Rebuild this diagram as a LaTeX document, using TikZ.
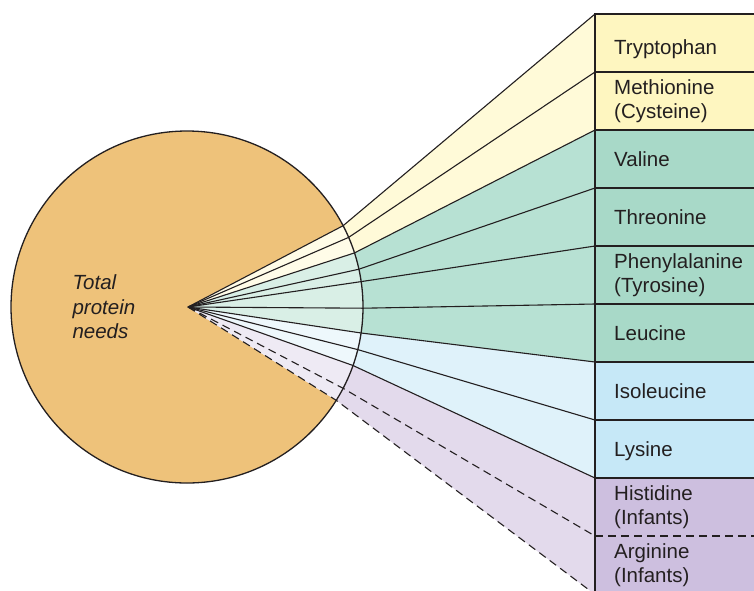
\documentclass[tikz,border=0pt]{standalone}
\usepackage{fontspec}
\setmainfont{Liberation Sans}
\definecolor{lc}{HTML}{231F20}
\definecolor{circ}{HTML}{EEC27A}
\definecolor{bYel}{HTML}{FEF6C0}
\definecolor{wYel}{HTML}{FFFAD8}
\definecolor{iYel}{HTML}{FFFCE8}
\definecolor{bGrn}{HTML}{A8D9C8}
\definecolor{wGrn}{HTML}{B7E1D3}
\definecolor{iGrn}{HTML}{D9EFE6}
\definecolor{bBlu}{HTML}{C6E8F7}
\definecolor{wBlu}{HTML}{DFF2FA}
\definecolor{iBlu}{HTML}{EEF8FC}
\definecolor{bPur}{HTML}{CDBFDF}
\definecolor{wPur}{HTML}{E3DAEC}
\definecolor{iPur}{HTML}{EEEAF4}
\tikzset{
  lbl/.style={font=\fontsize{20.5}{24.5}\selectfont, text=lc},
  aabox/.style={lbl, draw=none, minimum height=58pt, text width=140pt, align=left,
    inner xsep=19pt, inner ysep=0pt, anchor=north west},
  onebox/.style={aabox, text height=14.7pt, text depth=0pt},
  fanline/.style={draw=lc, line width=1.1pt, line join=round},
  fandash/.style={fanline, dash pattern=on 8pt off 5pt},
  boxline/.style={draw=lc, line width=1.4pt},
}
\begin{document}
\begin{tikzpicture}[x=1pt,y=-1pt]
\useasboundingbox (0,0) rectangle (754,590);
% circle fill
\fill[circ] (187,307) circle[radius=176];
\coordinate (A) at (188,307);
% crossing points on the circle
\coordinate (p1) at (343.1,225.7);
\coordinate (p2) at (348.6,237.4);
\coordinate (p3) at (354.5,252.9);
\coordinate (p4) at (358.9,269.2);
\coordinate (p5) at (361.2,281.6);
\coordinate (p6) at (363.0,308.2);
\coordinate (p7) at (361.1,333.0);
\coordinate (p8) at (357.8,349.6);
\coordinate (p9) at (353.0,365.5);
\coordinate (p10) at (343.1,388.3);
\coordinate (p11) at (336.2,400.3);
% boxes
\node[onebox, fill=bYel, text height=22.7pt] (trp) at (595,14) {Tryptophan};
\node[aabox, fill=bYel] (met) at (595,72) {Methionine\\(Cysteine)};
\node[onebox, fill=bGrn] (val) at (595,130) {Valine};
\node[onebox, fill=bGrn] (thr) at (595,188) {Threonine};
\node[aabox, fill=bGrn] (phe) at (595,246) {Phenylalanine\\(Tyrosine)};
\node[onebox, fill=bGrn] (leu) at (595,304) {Leucine};
\node[onebox, fill=bBlu] (ile) at (595,362) {Isoleucine};
\node[onebox, fill=bBlu] (lys) at (595,420) {Lysine};
\node[aabox, fill=bPur] (his) at (595,478) {Histidine\\(Infants)};
\node[aabox, fill=bPur] (arg) at (595,536) {Arginine\\(Infants)};
% wedges outside
\fill[wYel] (A) -- (p1) -- (trp.north west) -- (val.north west) -- (p3) -- cycle;
\fill[wGrn] (A) -- (p3) -- (val.north west) -- (ile.north west) -- (p7) -- cycle;
\fill[wBlu] (A) -- (p7) -- (ile.north west) -- (his.north west) -- (p9) -- cycle;
\fill[wPur] (A) -- (p9) -- (his.north west) -- (arg.south west) -- (p11) -- cycle;
% wedges inside circle
\begin{scope}
\clip (187,307) circle[radius=176];
\fill[iYel] (A) -- (p1) -- (trp.north west) -- (val.north west) -- (p3) -- cycle;
\fill[iGrn] (A) -- (p3) -- (val.north west) -- (ile.north west) -- (p7) -- cycle;
\fill[iBlu] (A) -- (p7) -- (ile.north west) -- (his.north west) -- (p9) -- cycle;
\fill[iPur] (A) -- (p9) -- (his.north west) -- (arg.south west) -- (p11) -- cycle;
\end{scope}
% fan lines
\draw[fanline] (A) -- (p1) -- (trp.north west);
\draw[fanline] (A) -- (p2) -- (met.north west);
\draw[fanline] (A) -- (p3) -- (val.north west);
\draw[fanline] (A) -- (p4) -- (thr.north west);
\draw[fanline] (A) -- (p5) -- (phe.north west);
\draw[fanline] (A) -- (p6) -- (leu.north west);
\draw[fanline] (A) -- (p7) -- (ile.north west);
\draw[fanline] (A) -- (p8) -- (lys.north west);
\draw[fanline] (A) -- (p9) -- (his.north west);
\draw[fandash] (A) -- (p10) -- (arg.north west);
\draw[fandash] (A) -- (p11) -- (arg.south west);
% circle outline
\node[circle, draw=lc, line width=1.3pt, minimum size=352pt, inner sep=0pt] (C) at (187,307) {};
% box lines
\foreach \b in {trp,met,val,thr,phe,leu,ile,lys,his}
  \draw[boxline] (\b.south west) -- (\b.north west) -- (\b.north east);
\draw[boxline] (arg.south west) -- (arg.north west);
\draw[boxline, dash pattern=on 8pt off 5pt] (arg.north west) -- (arg.north east);
% center label
\node[lbl, font=\fontsize{20.5}{24.5}\selectfont\itshape, align=left, anchor=west] (tpn) at (69,307) {Total\\protein\\needs};
\end{tikzpicture}
\end{document}
